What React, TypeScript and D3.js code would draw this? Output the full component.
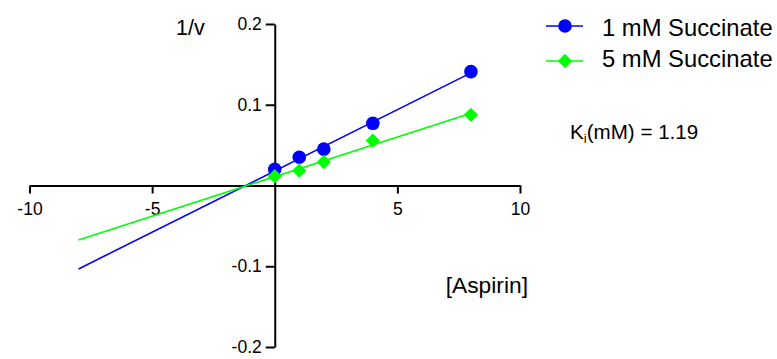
import React, { useEffect, useRef } from "react";
import * as d3 from "d3";

// [Aspirin] values (mM)
const aspirin = [0, 1, 2, 4, 8];
// 1/v readings for each succinate level
const succ1 = [0.02, 0.035, 0.045, 0.077, 0.141];
const succ5 = [0.0115, 0.0185, 0.029, 0.0556, 0.0875];
const seriesNames = ["1 mM Succinate", "5 mM Succinate"];
const fitRange = [-8, 8];
const xTicks = [-10, -5, 5, 10];
const yTicks = [-0.2, -0.1, 0.1, 0.2];
const kiLabel = "1.19";

const FONT = "Arial, 'Liberation Sans', sans-serif";

const linFit = (xs: number[], ys: number[]) => {
	const mx = d3.mean(xs) || 0;
	const my = d3.mean(ys) || 0;
	let sxy = 0;
	let sxx = 0;
	xs.forEach((x, i) => {
		sxy += (x - mx) * (ys[i] - my);
		sxx += (x - mx) * (x - mx);
	});
	const slope = sxy / sxx;
	return { slope, intercept: my - slope * mx };
};

const App: React.FC = () => {
	const ref = useRef<SVGSVGElement>(null);

	useEffect(() => {
		const svg = d3.select(ref.current);
		svg.selectAll("*").remove();

		const x = d3.scaleLinear().domain([-10, 10]).range([29.5, 520]);
		const y = d3.scaleLinear().domain([-0.2, 0.2]).range([347, 24]);

		// x axis sits on y = 0
		const gx = svg
			.append("g")
			.attr("transform", `translate(0, ${y(0)})`)
			.call(
				d3
					.axisBottom(x)
					.tickValues(xTicks)
					.tickSize(8)
					.tickSizeOuter(0)
					.tickPadding(9)
					.tickFormat((d) => String(d))
			);
		// y axis sits on x = 0
		const gy = svg
			.append("g")
			.attr("transform", `translate(${x(0)}, 0)`)
			.call(
				d3
					.axisLeft(y)
					.tickValues(yTicks)
					.tickSize(9)
					.tickSizeOuter(0)
					.tickPadding(4)
					.tickFormat((d) => String(d))
			);
		[gx, gy].forEach((g) => {
			g.attr("font-family", FONT).attr("font-size", 17.5);
			g.selectAll("path,line").attr("stroke", "#000").attr("stroke-width", 2);
			g.selectAll("text").attr("fill", "#000");
		});

		const series = [
			{ name: seriesNames[0], values: succ1, color: "#0000ff", shape: "circle" },
			{ name: seriesNames[1], values: succ5, color: "#00ff00", shape: "diamond" },
		];

		const diamond = d3.symbol().type(d3.symbolDiamond2).size(130);

		series.forEach((s) => {
			const fit = linFit(aspirin, s.values);
			svg.append("line")
				.attr("x1", x(fitRange[0]))
				.attr("y1", y(fit.slope * fitRange[0] + fit.intercept))
				.attr("x2", x(fitRange[1]))
				.attr("y2", y(fit.slope * fitRange[1] + fit.intercept))
				.attr("stroke", s.color)
				.attr("stroke-width", 1.6);
		});

		series.forEach((s) => {
			const pts = aspirin.map((a, i) => [a, s.values[i]] as [number, number]);
			if (s.shape === "circle") {
				svg.selectAll(null)
					.data(pts)
					.enter()
					.append("circle")
					.attr("cx", (d) => x(d[0]))
					.attr("cy", (d) => y(d[1]))
					.attr("r", 6.8)
					.attr("fill", s.color);
			} else {
				svg.selectAll(null)
					.data(pts)
					.enter()
					.append("path")
					.attr("d", diamond)
					.attr("transform", (d) => `translate(${x(d[0])},${y(d[1])})`)
					.attr("fill", s.color);
			}
		});

		// legend
		const legendRows = [26, 61];
		const legendBase = [35.5, 66.5];
		series.forEach((s, i) => {
			const g = svg.append("g").attr("transform", `translate(0, ${legendRows[i]})`);
			g.append("line").attr("x1", 546).attr("x2", 583).attr("stroke", s.color).attr("stroke-width", 1.6);
			if (s.shape === "circle") {
				g.append("circle").attr("cx", 565).attr("r", 6.8).attr("fill", s.color);
			} else {
				g.append("path").attr("d", diamond).attr("transform", "translate(565,0)").attr("fill", s.color);
			}
			svg.append("text")
				.attr("x", 602)
				.attr("y", legendBase[i])
				.attr("font-family", FONT)
				.attr("font-size", 23.8)
				.text(s.name);
		});

		// axis titles
		svg.append("text").attr("x", 176).attr("y", 35).attr("font-family", FONT).attr("font-size", 21.5).text("1/v");
		svg.append("text")
			.attr("x", 528)
			.attr("y", 293)
			.attr("text-anchor", "end")
			.attr("font-family", FONT)
			.attr("font-size", 22.8)
			.text("[Aspirin]");

		// Ki annotation
		const ki = svg.append("text").attr("x", 570).attr("y", 139).attr("font-family", FONT).attr("font-size", 20.6);
		ki.append("tspan").text("K");
		ki.append("tspan").attr("font-size", 13).attr("dy", 4).text("i");
		ki.append("tspan").attr("dy", -4).text(`(mM) = ${kiLabel}`);
	}, []);

	return <svg ref={ref} width={777} height={359} style={{ position: "absolute", left: 0, top: 0, background: "#fff" }} />;
};

export default App;
